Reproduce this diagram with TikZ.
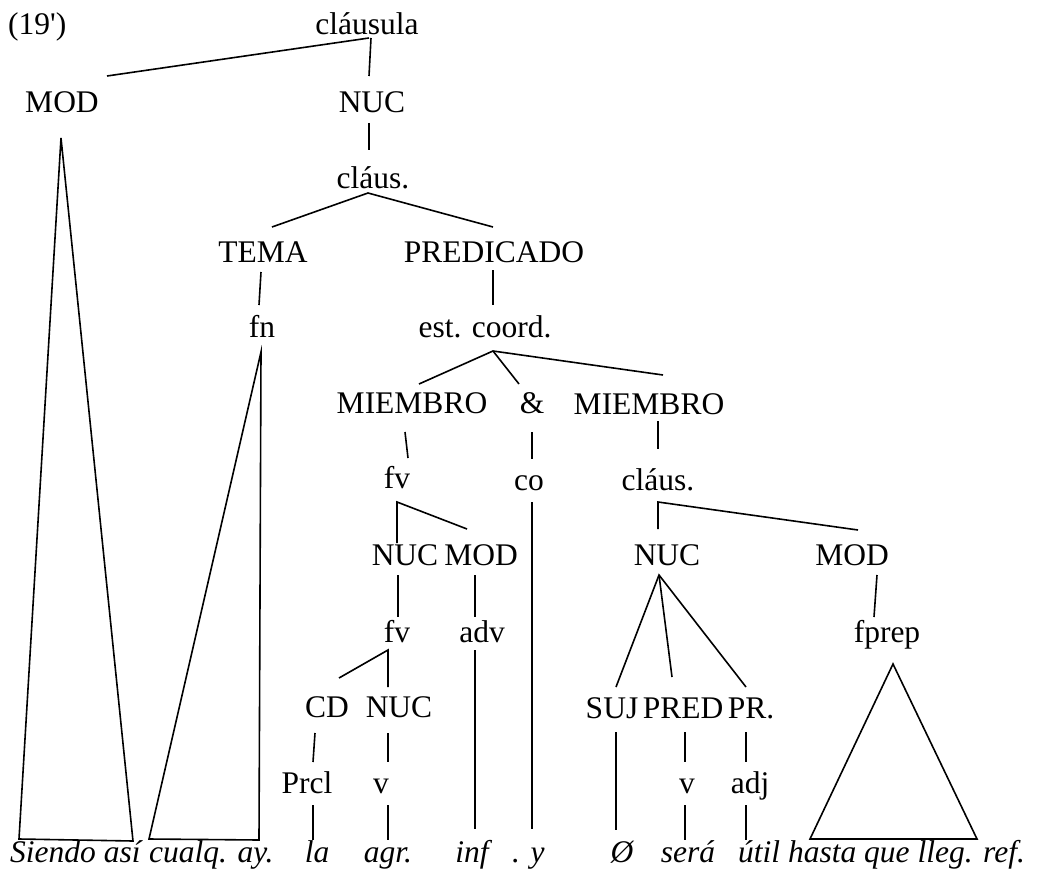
\documentclass[tikz,border=0pt]{standalone}
\usepackage{fontspec}
\setmainfont{Liberation Serif}
% same face without TeX ligature mapping, so ' stays straight
\newfontfamily\plainserif{Liberation Serif}
\usetikzlibrary{calc}
\begin{document}
\begin{tikzpicture}[x=1pt,y=-1pt,
  lab/.style={anchor=base,inner sep=0pt,font=\fontsize{31.5}{38}\selectfont},
  word/.style={lab,font=\fontsize{31.5}{38}\selectfont\itshape},
  edge/.style={draw=black,line width=1.6pt,line join=miter}]
\useasboundingbox (0,0) rectangle (1038,880);

% labels of the tree
\node[lab,anchor=base west] (ex) at (8,35) {\plainserif (19')};
\node[lab] (clausula) at (367,35) {cláusula};
\node[lab] (mod1) at (62,113) {MOD};
\node[lab] (nuc1) at (372,113) {NUC};
\node[lab] (claus1) at (373,188) {cláus.};
\node[lab] (tema) at (263,262) {TEMA};
\node[lab] (pred) at (494,262) {PREDICADO};
\node[lab] (fn) at (262,337) {fn};
\node[lab] (coord) at (485,337) {est. coord.};
\node[lab] (miem1) at (412,413) {MIEMBRO};
\node[lab] (amp) at (532,413) {\&};
\node[lab] (miem2) at (649,414) {MIEMBRO};
\node[lab] (fv1) at (397,488) {fv};
\node[lab] (co) at (529,490) {co};
\node[lab] (claus2) at (658,490) {cláus.};
\node[lab] (nuc2) at (405,565) {NUC};
\node[lab] (mod2) at (481,565) {MOD};
\node[lab] (nuc3) at (667,565) {NUC};
\node[lab] (mod3) at (852,565) {MOD};
\node[lab] (fv2) at (397,642) {fv};
\node[lab] (adv) at (482,642) {adv};
\node[lab] (fprep) at (887,642) {fprep};
\node[lab] (cd) at (327,717) {CD};
\node[lab] (nuc4) at (399,717) {NUC};
\node[lab] (suj) at (612,718) {SUJ};
\node[lab] (predB) at (683,718) {PRED};
\node[lab] (pr) at (751,718) {PR.};
\node[lab] (prcl) at (307,793) {Prcl};
\node[lab] (v1) at (381,793) {v};
\node[lab] (v2) at (687,793) {v};
\node[lab] (adj) at (750,793) {adj};

% the sentence
\node[word,anchor=base west] (w1) at (10,862) {Siendo así};
\node[word,anchor=base west] (w2) at (149,862) {cualq. ay.};
\node[word] (la) at (317,862) {la};
\node[word] (agr) at (388,862) {agr.};
\node[word] (inf) at (472,862) {inf};
\node[word,anchor=base west] (y) at (512,862) {. y};
\node[word] (empty) at (622,862) {Ø};
\node[word] (sera) at (688,862) {será};
\node[word,anchor=base west] (util) at (738,862) {útil hasta que lleg. ref.};

% branches
\draw[edge] ($(mod1.base)+(45,-37)$) -- ($(clausula.base)+(2,3)$);
\draw[edge] ($(clausula.base)+(4,3)$) -- ($(nuc1.base)+(-3,-37)$);
\draw[edge] ($(nuc1.base)+(-3,10)$) -- ($(claus1.base)+(-4,-38)$);
\draw[edge] ($(mod1.base)+(-1,25)$) -- ($(w1.base west)+(9,-23)$)
  -- ($(w1.base west)+(123,-21)$) -- cycle;
\draw[edge] ($(tema.base)+(9,-35)$) -- ($(claus1.base)+(-5,5)$) -- ($(pred.base)+(-1,-35)$);
\draw[edge] ($(tema.base)+(-2,10)$) -- ($(fn.base)+(-3,-32)$);
\draw[edge] ($(pred.base)+(-1,8)$) -- ($(coord.base)+(8,-32)$);
\draw[edge] ($(fn.base)+(-1,15)$) -- ($(w2.base west)+(0,-23)$)
  -- ($(w2.base west)+(110,-22)$) -- cycle;
\draw[edge] ($(miem1.base)+(7,-29)$) -- ($(coord.base)+(8,14)$) -- ($(miem2.base)+(14,-39)$);
\draw[edge] ($(coord.base)+(8,14)$) -- ($(amp.base)+(-13,-29)$);
\draw[edge] ($(miem1.base)+(-7,19)$) -- ($(fv1.base)+(11,-30)$);
\draw[edge] ($(amp.base)+(0,19)$) -- ($(co.base)+(3,-31)$);
\draw[edge] ($(miem2.base)+(9,7)$) -- ($(claus2.base)+(0,-41)$);
\draw[edge] ($(co.base)+(3,12)$) -- ($(y.base west)+(20,-33)$);
\draw[edge] ($(nuc3.base)+(-9,-36)$) -- ($(claus2.base)+(0,12)$) -- ($(mod3.base)+(6,-35)$);
\draw[edge] ($(nuc2.base)+(-8,-22)$) -- ($(fv1.base)+(0,14)$) -- ($(mod2.base)+(-14,-36)$);
\draw[edge] ($(nuc2.base)+(-7,10)$) -- ($(fv2.base)+(1,-25)$);
\draw[edge] ($(mod2.base)+(-6,10)$) -- ($(adv.base)+(-7,-25)$);
\draw[edge] ($(cd.base)+(12,-39)$) -- ($(fv2.base)+(-9,8)$) -- ($(nuc4.base)+(-11,-30)$);
\draw[edge] ($(adv.base)+(-7,8)$) -- ($(inf.base)+(3,-33)$);
\draw[edge] ($(cd.base)+(-12,16)$) -- ($(prcl.base)+(6,-31)$);
\draw[edge] ($(nuc4.base)+(-11,16)$) -- ($(v1.base)+(7,-31)$);
\draw[edge] ($(prcl.base)+(6,12)$) -- ($(la.base)+(-4,-22)$);
\draw[edge] ($(v1.base)+(7,12)$) -- ($(agr.base)+(0,-22)$);
\draw[edge] ($(mod3.base)+(25,10)$) -- ($(fprep.base)+(-13,-25)$);
\draw[edge] ($(fprep.base)+(6,22)$) -- ($(util.base west)+(72,-23)$)
  -- ($(util.base west)+(239,-23)$) -- cycle;
\draw[edge] ($(suj.base)+(4,-31)$) -- ($(nuc3.base)+(-8,10)$) -- ($(pr.base)+(-5,-31)$);
\draw[edge] ($(nuc3.base)+(-8,10)$) -- ($(predB.base)+(-11,-41)$);
\draw[edge] ($(suj.base)+(4,14)$) -- ($(empty.base)+(-6,-32)$);
\draw[edge] ($(predB.base)+(2,14)$) -- ($(v2.base)+(-2,-31)$);
\draw[edge] ($(pr.base)+(-5,14)$) -- ($(adj.base)+(-4,-31)$);
\draw[edge] ($(v2.base)+(-2,12)$) -- ($(sera.base)+(-3,-22)$);
\draw[edge] ($(adj.base)+(-4,12)$) -- ($(util.base west)+(8,-22)$);
\end{tikzpicture}
\end{document}
